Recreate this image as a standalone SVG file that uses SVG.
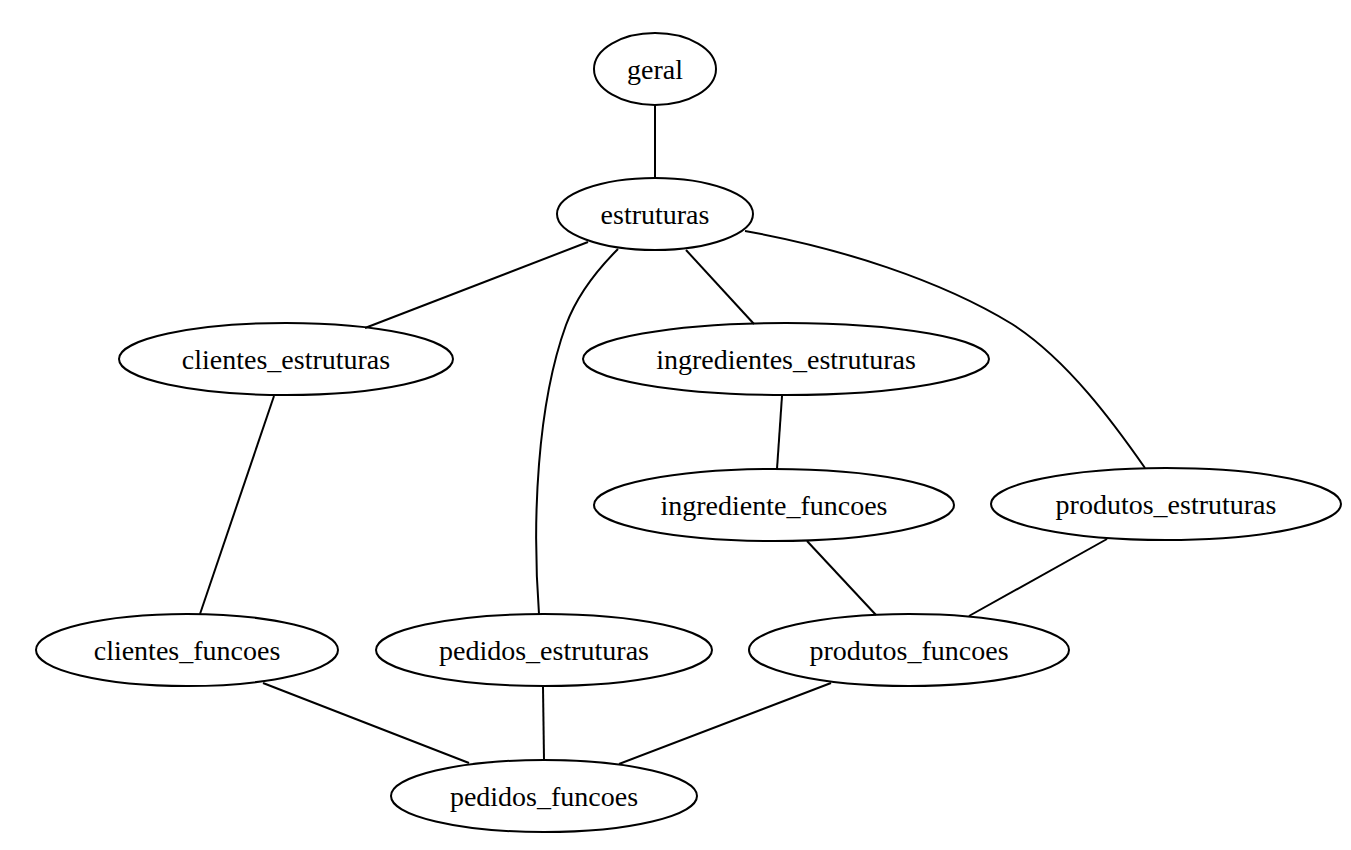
<svg xmlns="http://www.w3.org/2000/svg" width="1351" height="850" viewBox="0 0 1351 850">
<style>
.n ellipse{fill:none;stroke:#000;stroke-width:2}
.n text{font-family:"Liberation Serif","Times New Roman",serif;font-size:28px;text-anchor:middle;fill:#000}
.e path{fill:none;stroke:#000;stroke-width:2}
</style>
<rect width="1351" height="850" fill="#fff"/>
<g class="e" id="edges">
<path d="M655,105 L655,178"/>
<path d="M588,242 L365,328"/>
<path d="M618,249 C595,272 576,298 566,325 C537,405 532,520 539,614"/>
<path d="M686,250 L754,324"/>
<path d="M745,231 C840,248 940,280 1012,324 C1068,360 1115,425 1145,468"/>
<path d="M274,396 L200,614"/>
<path d="M782,396 L777,469"/>
<path d="M807,541 L876,615"/>
<path d="M1107,539 L969,616"/>
<path d="M263,683 L469,763"/>
<path d="M543,687 L544,760"/>
<path d="M831,683 L619,764"/>
</g>
<g class="n" id="geral"><ellipse cx="655" cy="69" rx="61" ry="36"/><text x="655" y="79">geral</text></g>
<g class="n" id="estruturas"><ellipse cx="655" cy="214" rx="98" ry="36"/><text x="655" y="224">estruturas</text></g>
<g class="n" id="clientes_estruturas"><ellipse cx="286" cy="359" rx="167" ry="36"/><text x="286" y="369">clientes_estruturas</text></g>
<g class="n" id="ingredientes_estruturas"><ellipse cx="786" cy="359" rx="203" ry="36"/><text x="786" y="369">ingredientes_estruturas</text></g>
<g class="n" id="ingrediente_funcoes"><ellipse cx="774" cy="505" rx="180" ry="36"/><text x="774" y="515">ingrediente_funcoes</text></g>
<g class="n" id="produtos_estruturas"><ellipse cx="1166" cy="504" rx="175" ry="36"/><text x="1166" y="514">produtos_estruturas</text></g>
<g class="n" id="clientes_funcoes"><ellipse cx="187" cy="650" rx="151" ry="36"/><text x="187" y="660">clientes_funcoes</text></g>
<g class="n" id="pedidos_estruturas"><ellipse cx="544" cy="650" rx="168" ry="36"/><text x="544" y="660">pedidos_estruturas</text></g>
<g class="n" id="produtos_funcoes"><ellipse cx="909" cy="650" rx="160" ry="36"/><text x="909" y="660">produtos_funcoes</text></g>
<g class="n" id="pedidos_funcoes"><ellipse cx="544" cy="796" rx="153" ry="36"/><text x="544" y="806">pedidos_funcoes</text></g>
</svg>
